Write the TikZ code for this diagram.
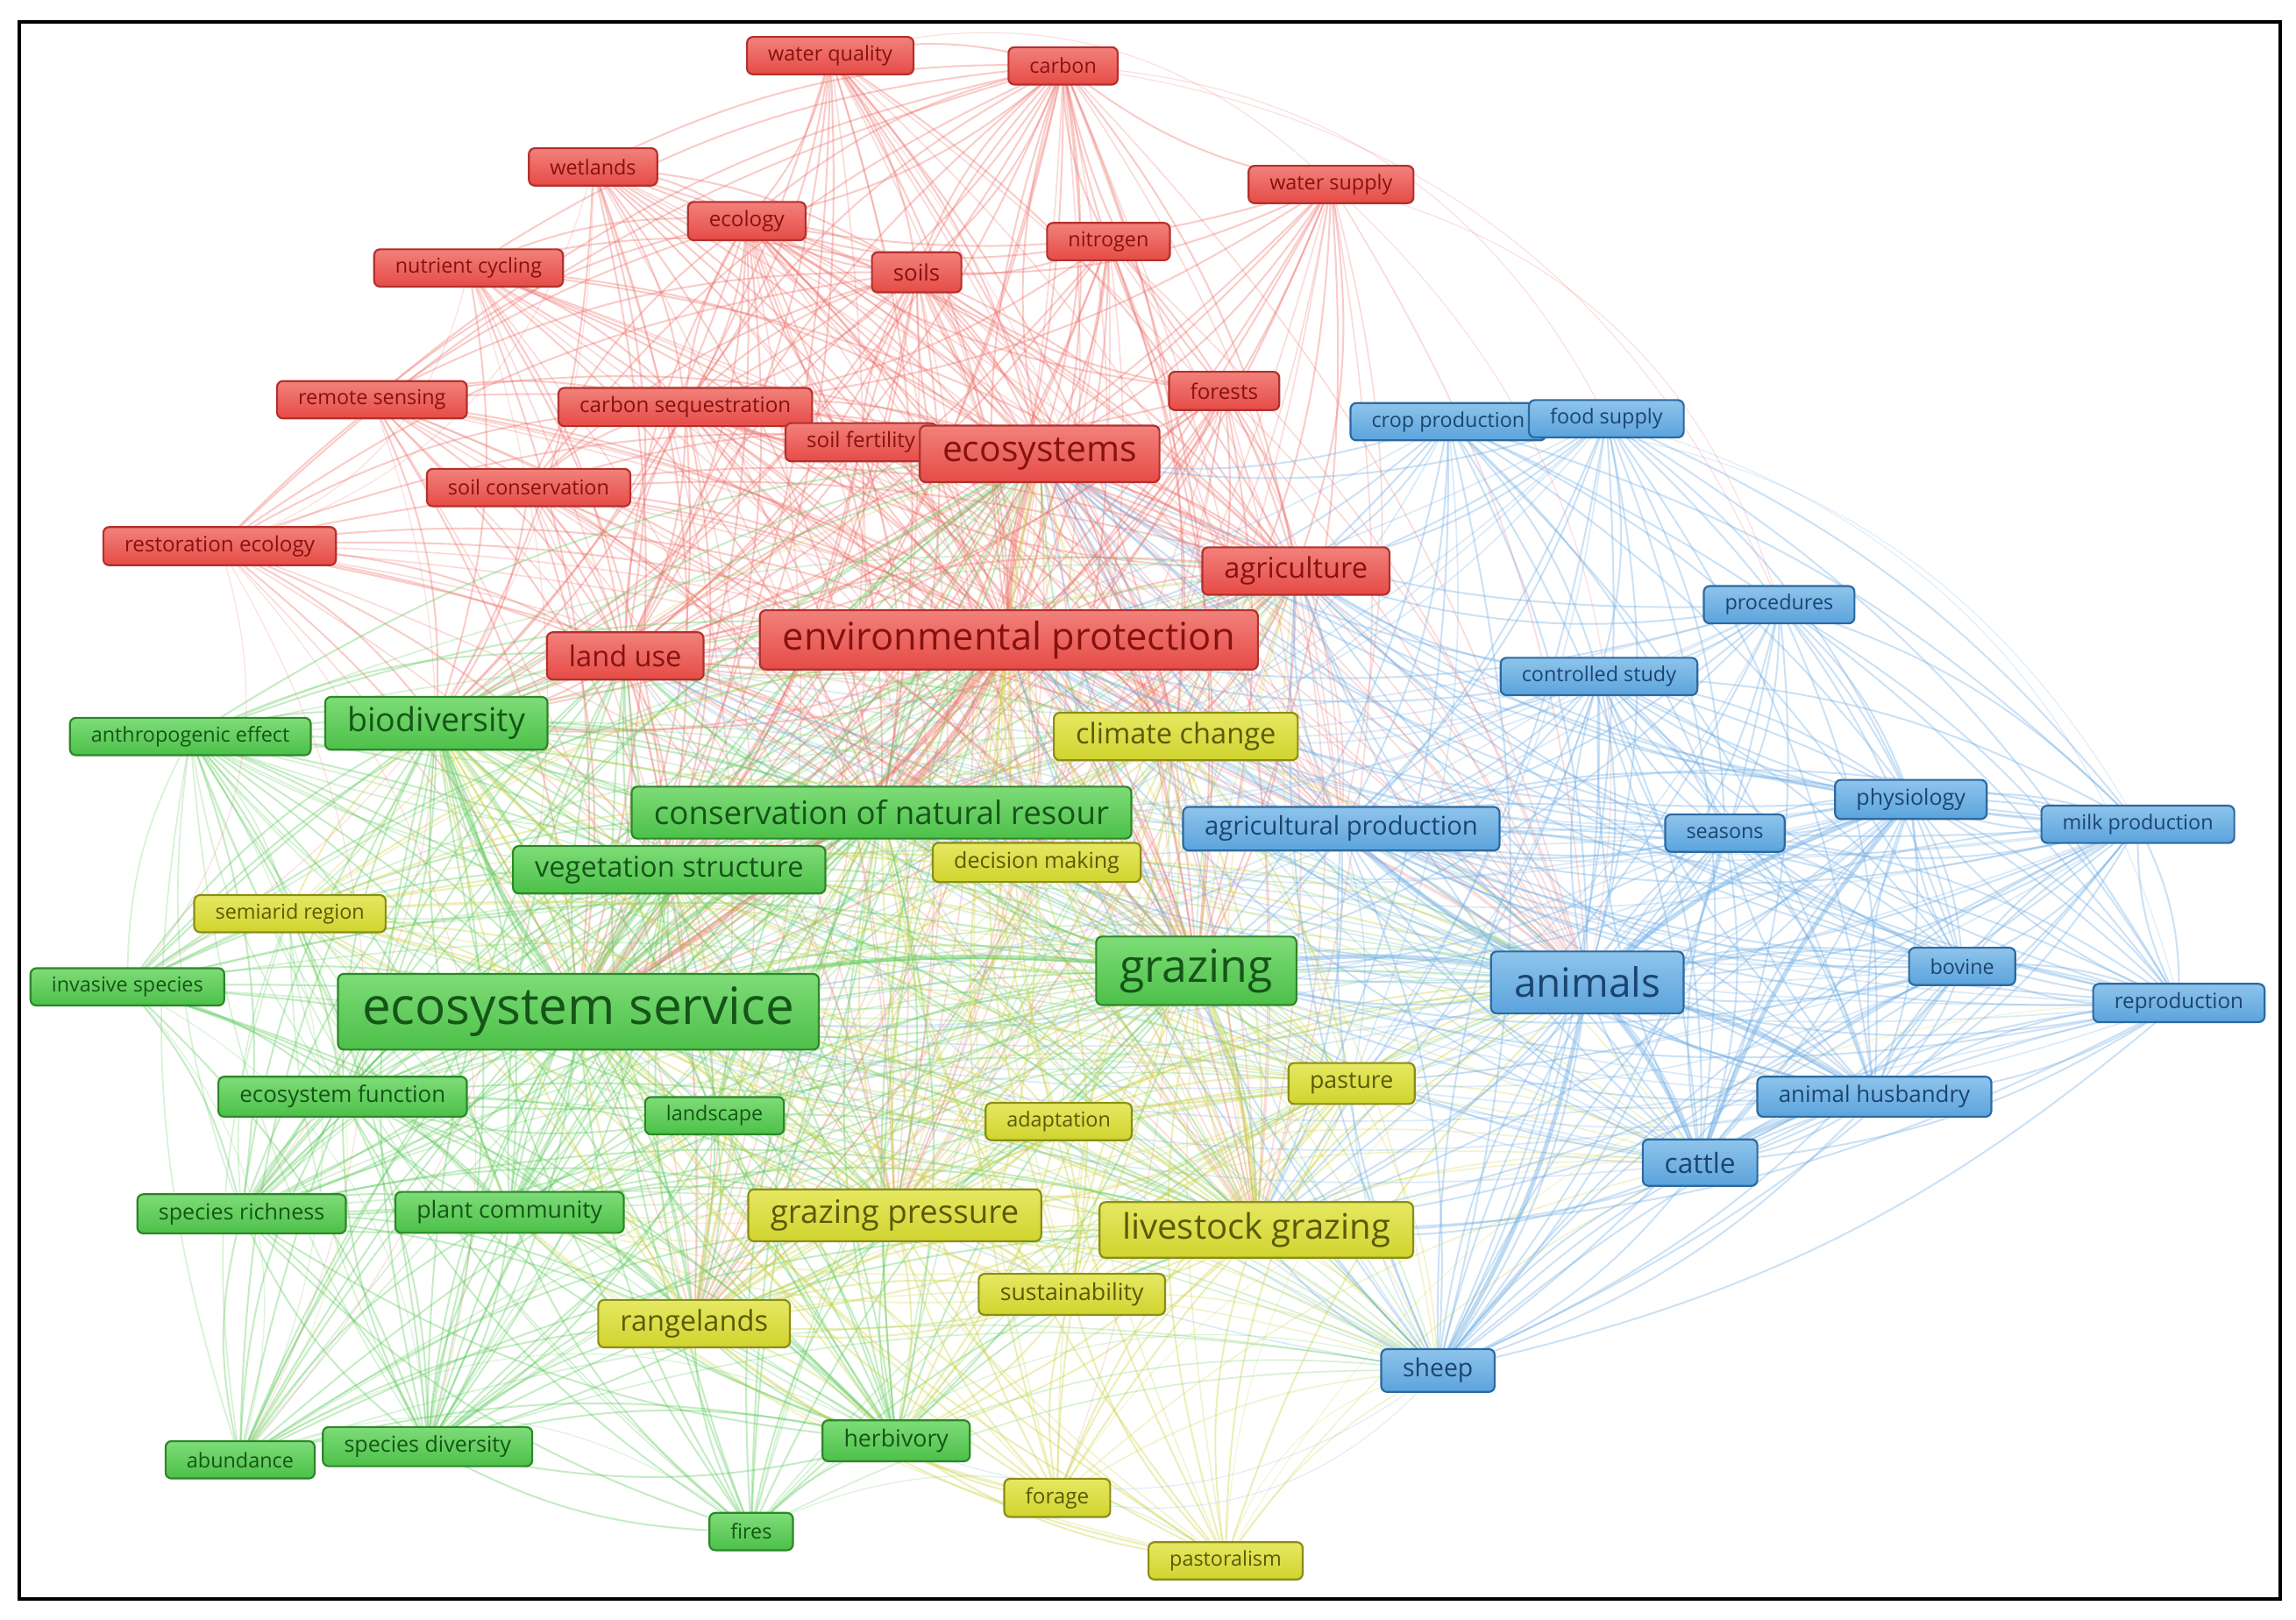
\documentclass[tikz,border=0pt]{standalone}
\usepackage{fontspec}
\setmainfont{Open Sans}
\pgfdeclarelayer{bg}
\pgfsetlayers{bg,main}
\definecolor{rF}{HTML}{E64B46}\definecolor{rT}{HTML}{F2817B}\definecolor{rB}{HTML}{B3302C}\definecolor{rX}{HTML}{86120F}
\definecolor{gF}{HTML}{4CC049}\definecolor{gT}{HTML}{7EDC78}\definecolor{gB}{HTML}{2C8728}\definecolor{gX}{HTML}{155517}
\definecolor{bF}{HTML}{5BA3DC}\definecolor{bT}{HTML}{8EC4EC}\definecolor{bB}{HTML}{2B69A0}\definecolor{bX}{HTML}{1B456E}
\definecolor{yF}{HTML}{D0D42E}\definecolor{yT}{HTML}{E6E862}\definecolor{yB}{HTML}{8C8D15}\definecolor{yX}{HTML}{5A5A08}
\definecolor{eR}{HTML}{EF6F69}\definecolor{eG}{HTML}{5CCB5A}\definecolor{eB}{HTML}{6FAEE6}\definecolor{eY}{HTML}{CDD23A}
\tikzset{
  x=0.5pt, y=-0.5pt,
  kbase/.style={rectangle, rounded corners=2pt, line width=0.65pt, inner ysep=0pt},
  sz/.style={font=\fontsize{\fpeval{#1/2}}{\fpeval{#1/2}}\selectfont, minimum height={(1.25*#1+8)/2}, inner xsep={(13+0.1*#1)/2}},
  R/.style={kbase, draw=rB, top color=rT, bottom color=rF, text=rX, sz=#1},
  G/.style={kbase, draw=gB, top color=gT, bottom color=gF, text=gX, sz=#1},
  B/.style={kbase, draw=bB, top color=bT, bottom color=bF, text=bX, sz=#1},
  Y/.style={kbase, draw=yB, top color=yT, bottom color=yF, text=yX, sz=#1},
  lnk/.style={draw=#1, draw opacity=0.36, line width=0.6pt},
  xlnk/.style={draw=#1, draw opacity=0.25, line width=0.5pt},
  far/.style={draw=#1, draw opacity=0.22, line width=0.35pt},
  thick link/.style={draw=#1, draw opacity=0.45, line width=1.5pt},
}
\begin{document}
\begin{tikzpicture}
\useasboundingbox (0,0) rectangle (1568,1106);
% ---------- red cluster
\node[R=14] (wq) at (567,38) {water quality};
\node[R=14] (carbon) at (726,45) {carbon};
\node[R=14] (wetl) at (405,114) {wetlands};
\node[R=14] (wsup) at (909,126) {water supply};
\node[R=14.5] (ecol) at (510,151) {ecology};
\node[R=14] (nitr) at (757,165) {nitrogen};
\node[R=15.5] (soils) at (626,186) {soils};
\node[R=14] (nutr) at (320,183) {nutrient cycling};
\node[R=14] (rems) at (254,273) {remote sensing};
\node[R=14.5] (cseq) at (468,278) {carbon sequestration};
\node[R=14.5] (forest) at (836,267) {forests};
\node[R=14.5] (sfert) at (588,302) {soil fertility};
\node[R=24.5] (ecosys) at (710,310) {ecosystems};
\node[R=14] (scons) at (361,333) {soil conservation};
\node[R=14.5] (resto) at (150,373) {restoration ecology};
\node[R=19.5] (agri) at (885,390) {agriculture};
\node[R=19.5] (landuse) at (427,448) {land use};
\node[R=26] (envp) at (689,437) {environmental protection};
% ---------- blue cluster
\node[B=14] (cropp) at (989,288) {crop production};
\node[B=14] (food) at (1097,286) {food supply};
\node[B=14] (proc) at (1215,413) {procedures};
\node[B=14] (ctrl) at (1092,462) {controlled study};
\node[B=15] (phys) at (1305,546) {physiology};
\node[B=17.5] (agprod) at (916,566) {agricultural production};
\node[B=14] (seas) at (1178,569) {seasons};
\node[B=14] (milk) at (1460,563) {milk production};
\node[B=27.5] (animals) at (1084,671) {animals};
\node[B=14] (bovine) at (1340,660) {bovine};
\node[B=14.5] (repro) at (1488,685) {reproduction};
\node[B=15.5] (husb) at (1280,749) {animal husbandry};
\node[B=19] (cattle) at (1161,794) {cattle};
\node[B=17] (sheep) at (982,936) {sheep};
% ---------- green cluster
\node[G=14] (anthro) at (130,503) {anthropogenic effect};
\node[G=22.5] (biod) at (298,494) {biodiversity};
\node[G=22] (conserv) at (602,555) {conservation of natural resour};
\node[G=19.5] (vegs) at (457,594) {vegetation structure};
\node[G=14] (invas) at (87,674) {invasive species};
\node[G=35] (ess) at (395,691) {ecosystem service};
\node[G=31] (grazing) at (817,663) {grazing};
\node[G=15.5] (efunc) at (234,749) {ecosystem function};
\node[G=14] (landsc) at (488,762) {landscape};
\node[G=15] (srich) at (165,829) {species richness};
\node[G=16] (plantc) at (348,828) {plant community};
\node[G=16] (herb) at (612,984) {herbivory};
\node[G=15] (sdiv) at (292,988) {species diversity};
\node[G=14] (abund) at (164,997) {abundance};
\node[G=14] (fires) at (513,1046) {fires};
% ---------- yellow cluster
\node[Y=19.5] (climate) at (803,503) {climate change};
\node[Y=15] (decis) at (708,589) {decision making};
\node[Y=14] (semi) at (198,624) {semiarid region};
\node[Y=16] (pasture) at (923,740) {pasture};
\node[Y=14] (adapt) at (723,766) {adaptation};
\node[Y=22] (gpress) at (611,830) {grazing pressure};
\node[Y=24] (lgraz) at (858,840) {livestock grazing};
\node[Y=16] (sust) at (732,884) {sustainability};
\node[Y=19.5] (range) at (474,904) {rangelands};
\node[Y=14.5] (forage) at (722,1023) {forage};
\node[Y=14] (pastor) at (837,1066) {pastoralism};
% ---------- links
\begin{pgfonlayer}{bg}
\fill[white] (0,0) rectangle (1568,1106);
\foreach \sa in {wq,carbon,wetl,wsup,ecol,nitr,soils,nutr,rems,cseq,forest,sfert,ecosys,scons,resto,agri,landuse,envp}{
  \foreach \ta in {envp,ecosys,agri,landuse,soils,cseq,ess,biod,conserv,grazing,vegs,climate,ecol,carbon}{
    \ifx\sa\ta\else\draw[lnk=eR] (\sa.center) to[bend left=14] (\ta.center);\fi}
  \foreach \ta in {lgraz,gpress,agprod,range,decis,animals}{
    \draw[xlnk=eR] (\sa.center) to[bend left=14] (\ta.center);}}
\foreach \sa in {anthro,biod,conserv,vegs,invas,ess,grazing,efunc,landsc,srich,plantc,herb,sdiv,abund,fires}{
  \foreach \ta in {ess,biod,grazing,conserv,vegs,envp,landuse,gpress,lgraz,range,herb,plantc,srich,efunc,sdiv,ecosys}{
    \ifx\sa\ta\else\draw[lnk=eG] (\sa.center) to[bend left=14] (\ta.center);\fi}
  \foreach \ta in {animals,agri,climate,pasture,sheep,semi,anthro}{
    \ifx\sa\ta\else\draw[xlnk=eG] (\sa.center) to[bend left=14] (\ta.center);\fi}}
\foreach \sa in {climate,decis,semi,pasture,adapt,gpress,lgraz,sust,range,forage,pastor}{
  \foreach \ta in {grazing,ess,lgraz,gpress,range,pasture,animals,envp,herb,sust,conserv,biod}{
    \ifx\sa\ta\else\draw[lnk=eY] (\sa.center) to[bend left=14] (\ta.center);\fi}
  \foreach \ta in {sheep,cattle,ecosys,agri,vegs,plantc}{
    \draw[xlnk=eY] (\sa.center) to[bend left=14] (\ta.center);}}
\foreach \sa in {cropp,food,proc,ctrl,phys,agprod,seas,milk,animals,bovine,repro,husb,cattle,sheep}{
  \foreach \ta in {animals,cattle,sheep,agprod,phys,husb,grazing,envp,ecosys,agri,lgraz,repro,milk,ctrl,seas,bovine}{
    \ifx\sa\ta\else\draw[lnk=eB] (\sa.center) to[bend left=14] (\ta.center);\fi}
  \foreach \ta in {ess,conserv,climate,pasture,landuse}{
    \draw[xlnk=eB] (\sa.center) to[bend left=14] (\ta.center);}}
\foreach \sa/\ta/\cc in {resto/abund/eR,resto/sdiv/eR,wetl/invas/eR,nutr/abund/eR,rems/srich/eR,wq/forage/eR,
  carbon/food/eR,wsup/proc/eR,wsup/animals/eR,pastor/repro/eY,pastor/animals/eY,forage/cattle/eY,
  fires/sheep/eG,abund/herb/eG,invas/sdiv/eG,anthro/abund/eG,semi/abund/eY,pastor/sheep/eY,
  food/repro/eB,cropp/milk/eB,sheep/herb/eB,sheep/forage/eB,resto/invas/eR,nutr/resto/eR,
  wetl/resto/eR,invas/abund/eG,abund/fires/eG,fires/pastor/eG,wq/wsup/eR,carbon/proc/eR}{
  \draw[far=\cc] (\sa.center) to[bend left=30] (\ta.center);}
\foreach \sa/\ta/\cc in {ess/grazing/eG,ess/biod/eG,envp/ecosys/eR,animals/cattle/eB,animals/sheep/eB,
  animals/husb/eB,cattle/husb/eB,animals/phys/eB,grazing/lgraz/eY,ess/conserv/eG,grazing/animals/eB,
  envp/conserv/eR,envp/ess/eR,animals/agprod/eB,cattle/phys/eB}{
  \draw[thick link=\cc] (\sa.center) to[bend left=10] (\ta.center);}
\end{pgfonlayer}
% ---------- frame
\draw[line width=1.25pt] (13,15) rectangle (1557,1092);
\end{tikzpicture}
\end{document}
